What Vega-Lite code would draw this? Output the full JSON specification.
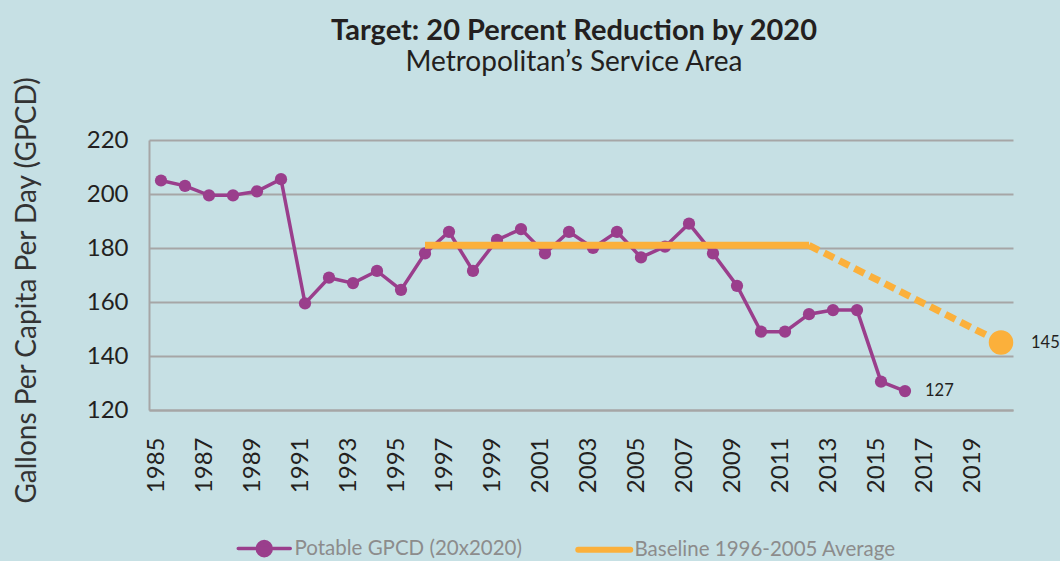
{
  "$schema": "https://vega.github.io/schema/vega-lite/v6.json",
  "width": 864,
  "height": 270,
  "autosize": {"type": "none"},
  "padding": {"left": 149, "top": 140, "right": 47, "bottom": 151},
  "background": "#c6e0e4",
  "config": {"view": {"stroke": null}, "font": "Lato"},
  "title": {
    "text": "Target: 20 Percent Reduction by 2020",
    "subtitle": "Metropolitan’s Service Area",
    "anchor": "middle",
    "frame": "group",
    "font": "Lato",
    "fontSize": 29,
    "fontWeight": "bold",
    "color": "#231f20",
    "subtitleFont": "Lato",
    "subtitleFontSize": 28,
    "subtitleColor": "#231f20",
    "subtitlePadding": 3,
    "offset": -1,
    "dx": -7
  },
  "datasets": {
    "gpcd": [
      {"year": 1985, "value": 205, "series": "Potable GPCD (20x2020)"},
      {"year": 1986, "value": 203, "series": "Potable GPCD (20x2020)"},
      {"year": 1987, "value": 199.5, "series": "Potable GPCD (20x2020)"},
      {"year": 1988, "value": 199.5, "series": "Potable GPCD (20x2020)"},
      {"year": 1989, "value": 201, "series": "Potable GPCD (20x2020)"},
      {"year": 1990, "value": 205.5, "series": "Potable GPCD (20x2020)"},
      {"year": 1991, "value": 159.5, "series": "Potable GPCD (20x2020)"},
      {"year": 1992, "value": 169, "series": "Potable GPCD (20x2020)"},
      {"year": 1993, "value": 167, "series": "Potable GPCD (20x2020)"},
      {"year": 1994, "value": 171.5, "series": "Potable GPCD (20x2020)"},
      {"year": 1995, "value": 164.5, "series": "Potable GPCD (20x2020)"},
      {"year": 1996, "value": 178, "series": "Potable GPCD (20x2020)"},
      {"year": 1997, "value": 186, "series": "Potable GPCD (20x2020)"},
      {"year": 1998, "value": 171.5, "series": "Potable GPCD (20x2020)"},
      {"year": 1999, "value": 183, "series": "Potable GPCD (20x2020)"},
      {"year": 2000, "value": 187, "series": "Potable GPCD (20x2020)"},
      {"year": 2001, "value": 178, "series": "Potable GPCD (20x2020)"},
      {"year": 2002, "value": 186, "series": "Potable GPCD (20x2020)"},
      {"year": 2003, "value": 180, "series": "Potable GPCD (20x2020)"},
      {"year": 2004, "value": 186, "series": "Potable GPCD (20x2020)"},
      {"year": 2005, "value": 176.5, "series": "Potable GPCD (20x2020)"},
      {"year": 2006, "value": 180.5, "series": "Potable GPCD (20x2020)"},
      {"year": 2007, "value": 189, "series": "Potable GPCD (20x2020)"},
      {"year": 2008, "value": 178, "series": "Potable GPCD (20x2020)"},
      {"year": 2009, "value": 166, "series": "Potable GPCD (20x2020)"},
      {"year": 2010, "value": 149, "series": "Potable GPCD (20x2020)"},
      {"year": 2011, "value": 149, "series": "Potable GPCD (20x2020)"},
      {"year": 2012, "value": 155.5, "series": "Potable GPCD (20x2020)"},
      {"year": 2013, "value": 157, "series": "Potable GPCD (20x2020)"},
      {"year": 2014, "value": 157, "series": "Potable GPCD (20x2020)"},
      {"year": 2015, "value": 130.5, "series": "Potable GPCD (20x2020)"},
      {"year": 2016, "value": 127, "series": "Potable GPCD (20x2020)"}
    ],
    "baseline": [
      {"year": 1996, "value": 181, "series": "Baseline 1996-2005 Average", "part": "actual"},
      {"year": 2012, "value": 181, "series": "Baseline 1996-2005 Average", "part": "actual"},
      {"year": 2012, "value": 181, "series": "Baseline 1996-2005 Average", "part": "target"},
      {"year": 2020, "value": 145, "series": "Baseline 1996-2005 Average", "part": "target"}
    ]
  },
  "encoding": {
    "x": {
      "field": "year",
      "type": "quantitative",
      "scale": {"domain": [1984.5, 2020.5], "nice": false, "zero": false},
      "axis": {
        "values": [1985, 1987, 1989, 1991, 1993, 1995, 1997, 1999, 2001, 2003, 2005, 2007, 2009, 2011, 2013, 2015, 2017, 2019],
        "format": "d",
        "labelAngle": -90,
        "labelFont": "Lato",
        "labelFontSize": 24,
        "labelColor": "#231f20",
        "labelPadding": 27,
        "labelOffset": -5,
        "ticks": false,
        "grid": false,
        "domainColor": "#a6a6a6",
        "domainWidth": 2,
        "title": null
      }
    },
    "y": {
      "field": "value",
      "type": "quantitative",
      "scale": {"domain": [120, 220], "nice": false, "zero": false},
      "axis": {
        "values": [120, 140, 160, 180, 200, 220],
        "labelFont": "Lato",
        "labelFontSize": 24,
        "labelColor": "#231f20",
        "labelPadding": 21,
        "ticks": false,
        "gridColor": "#a6a6a6",
        "gridWidth": 2,
        "domainColor": "#a6a6a6",
        "domainWidth": 2,
        "title": "Gallons Per Capita Per Day (GPCD)",
        "titleFont": "Lato",
        "titleFontSize": 28,
        "titleFontWeight": "normal",
        "titleColor": "#333333",
        "titlePadding": 45,
        "titleY": 150
      }
    }
  },
  "layer": [
    {
      "data": {"name": "gpcd"},
      "mark": {"type": "line", "strokeWidth": 3.5},
      "encoding": {
        "color": {
          "field": "series",
          "type": "nominal",
          "scale": {
            "domain": ["Potable GPCD (20x2020)", "Baseline 1996-2005 Average"],
            "range": ["#9a3e8c", "#fbb03b"]
          },
          "legend": {
            "orient": "none",
            "legendX": 105,
            "legendY": 398,
            "direction": "horizontal",
            "title": null,
            "labelFont": "Lato",
            "labelFontSize": 20.5,
            "labelColor": "#8c8c8c",
            "labelLimit": 0,
            "symbolSize": 2704,
            "columnPadding": 44,
            "labelOffset": 20,
            "padding": 0,
            "encode": {
              "symbols": {
                "update": {
                  "shape": {"signal": "datum.value === 'Potable GPCD (20x2020)' ? 'M-1,0L1,0M-0.27,0A0.27,0.27,0,1,1,0.27,0A0.27,0.27,0,1,1,-0.27,0Z' : 'M-1,0L1,0'"},
                  "fill": {"scale": "color", "field": "value"},
                  "stroke": {"scale": "color", "field": "value"},
                  "strokeWidth": {"signal": "datum.value === 'Potable GPCD (20x2020)' ? 3.5 : 6"},
                  "strokeCap": {"value": "round"},
                  "opacity": {"value": 1}
                }
              }
            }
          }
        }
      }
    },
    {
      "data": {"name": "gpcd"},
      "mark": {"type": "point", "filled": true, "size": 150, "opacity": 1},
      "encoding": {
        "color": {"field": "series", "type": "nominal"}
      }
    },
    {
      "data": {"name": "baseline"},
      "transform": [{"filter": "datum.part === 'actual'"}],
      "mark": {"type": "line", "strokeWidth": 7},
      "encoding": {
        "color": {"field": "series", "type": "nominal"}
      }
    },
    {
      "data": {"name": "baseline"},
      "transform": [{"filter": "datum.part === 'target'"}],
      "mark": {"type": "line", "strokeWidth": 7, "strokeDash": [11, 6]},
      "encoding": {
        "color": {"field": "series", "type": "nominal"}
      }
    },
    {
      "data": {"name": "baseline"},
      "transform": [{"filter": "datum.year === 2020"}],
      "mark": {"type": "point", "filled": true, "size": 600, "opacity": 1},
      "encoding": {
        "color": {"field": "series", "type": "nominal"}
      }
    },
    {
      "data": {"name": "baseline"},
      "transform": [{"filter": "datum.year === 2020"}],
      "mark": {"type": "text", "align": "left", "dx": 30, "fontSize": 16.5, "font": "Lato", "color": "#231f20"},
      "encoding": {
        "text": {"field": "value", "type": "quantitative"}
      }
    },
    {
      "data": {"name": "gpcd"},
      "transform": [{"filter": "datum.year === 2016"}],
      "mark": {"type": "text", "align": "left", "dx": 20, "fontSize": 16.5, "font": "Lato", "color": "#231f20"},
      "encoding": {
        "text": {"field": "value", "type": "quantitative"}
      }
    }
  ]
}
